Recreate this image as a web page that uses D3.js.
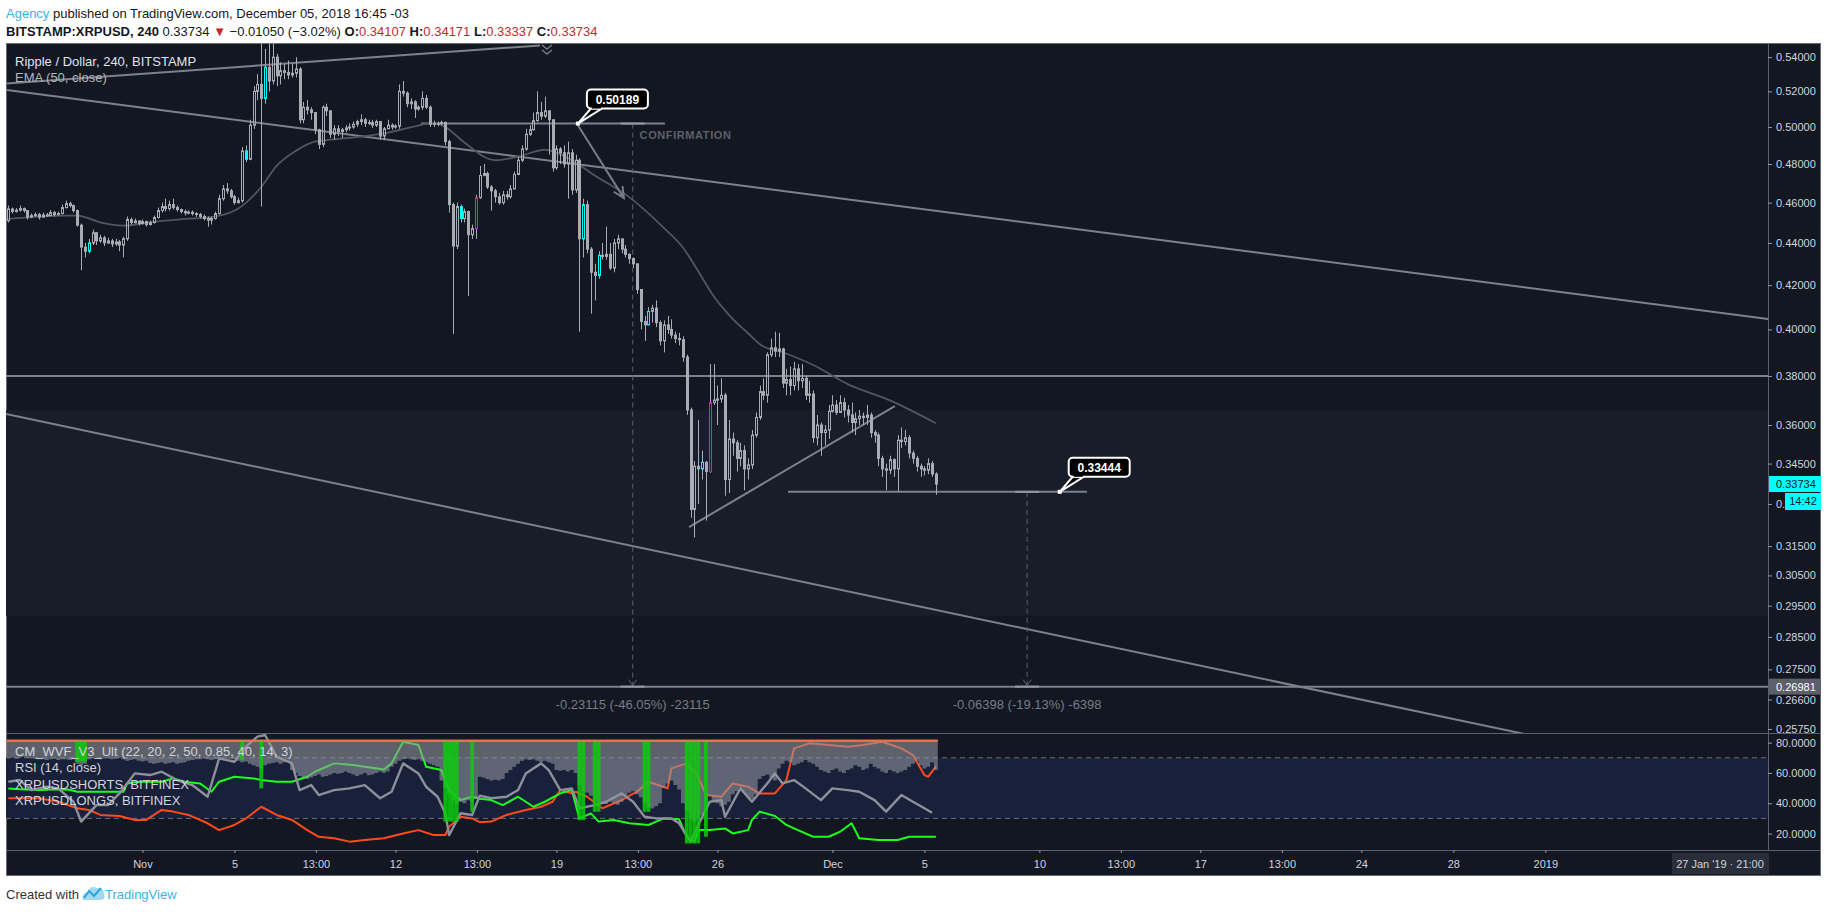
<!DOCTYPE html>
<html>
<head>
<meta charset="utf-8">
<script src="https://cdn.jsdelivr.net/npm/d3@7"></script>
<style>
  body { margin: 0; background: #fff; }
  svg { display: block; font-family: "Liberation Sans", Arial, sans-serif; }
</style>
</head>
<body>
<svg width="1828" height="912"></svg>
<script>
// ---- data (4h bars, bar 0 = 26 Oct 2018 04:00) ----
var firstOpen = 0.4510;
var closes = [0.4568,0.4555,0.4562,0.4570,0.4560,0.4527,0.4535,0.4540,0.4527,0.4538,
0.4535,0.4550,0.4540,0.4545,0.4575,0.4595,0.4585,0.4560,0.4487,0.4380,
0.4360,0.4400,0.4450,0.4410,0.4425,0.4400,0.4410,0.4395,0.4405,0.4390,
0.4420,0.4515,0.4500,0.4508,0.4495,0.4505,0.4490,0.4500,0.4525,0.4560,
0.4580,0.4570,0.4590,0.4575,0.4565,0.4555,0.4548,0.4552,0.4545,0.4540,
0.4530,0.4520,0.4512,0.4520,0.4545,0.4620,0.4670,0.4660,0.4630,0.4600,
0.4610,0.4870,0.4825,0.5010,0.5200,0.5240,0.5160,0.5340,0.5260,0.5400,
0.5290,0.5320,0.5310,0.5295,0.5305,0.5330,0.5040,0.5110,0.5095,0.5080,
0.4985,0.4905,0.5110,0.5090,0.4960,0.4990,0.4975,0.4985,0.4995,0.5000,
0.5015,0.5030,0.5040,0.5020,0.5025,0.5010,0.5030,0.4950,0.4990,0.5010,
0.5000,0.5005,0.5200,0.5190,0.5130,0.5140,0.5100,0.5110,0.5160,0.5110,
0.5015,0.5020,0.5018,0.5025,0.4920,0.4590,0.4385,0.4580,0.4520,0.4555,
0.4440,0.4470,0.4625,0.4740,0.4750,0.4680,0.4660,0.4630,0.4600,0.4640,
0.4630,0.4670,0.4745,0.4820,0.4880,0.4960,0.4985,0.5035,0.5080,0.5060,
0.5090,0.5040,0.4780,0.4880,0.4860,0.4800,0.4860,0.4665,0.4820,0.4420,
0.4590,0.4370,0.4260,0.4245,0.4340,0.4335,0.4345,0.4280,0.4400,0.4420,
0.4370,0.4345,0.4325,0.4300,0.4180,0.4035,0.4020,0.4080,0.4095,0.4030,
0.3950,0.4020,0.4000,0.3975,0.3960,0.3955,0.3880,0.3660,0.3280,0.3440,
0.3430,0.3455,0.3420,0.3690,0.3700,0.3705,0.3720,0.3390,0.3545,0.3530,
0.3470,0.3500,0.3430,0.3445,0.3560,0.3630,0.3735,0.3720,0.3890,0.3920,
0.3905,0.3915,0.3770,0.3785,0.3760,0.3830,0.3780,0.3790,0.3720,0.3725,
0.3550,0.3600,0.3570,0.3580,0.3655,0.3680,0.3650,0.3690,0.3660,0.3640,
0.3610,0.3625,0.3635,0.3630,0.3640,0.3570,0.3560,0.3470,0.3430,0.3425,
0.3465,0.3430,0.3540,0.3535,0.3550,0.3490,0.3470,0.3440,0.3430,0.3425,
0.3450,0.34107,0.33734];
var highs = [0.4585,0.4575,0.4572,0.4585,0.4575,0.4562,0.4545,0.4550,0.4548,0.4550,
0.4548,0.4562,0.4558,0.4555,0.4590,0.4610,0.4605,0.4590,0.4565,0.4495,
0.4400,0.4420,0.4465,0.4450,0.4440,0.4435,0.4425,0.4420,0.4420,0.4415,
0.4430,0.4530,0.4525,0.4520,0.4512,0.4515,0.4510,0.4510,0.4535,0.4575,
0.4600,0.4620,0.4610,0.4620,0.4585,0.4570,0.4565,0.4560,0.4560,0.4552,
0.4548,0.4540,0.4530,0.4530,0.4555,0.4640,0.4690,0.4700,0.4670,0.4640,
0.4625,0.4890,0.4900,0.5040,0.5230,0.5300,0.5600,0.5450,0.5700,0.5700,
0.5420,0.5370,0.5360,0.5380,0.5360,0.5400,0.5340,0.5140,0.5150,0.5110,
0.5060,0.4990,0.5120,0.5130,0.5090,0.5010,0.5010,0.4995,0.5010,0.5020,
0.5030,0.5040,0.5070,0.5050,0.5040,0.5040,0.5040,0.5030,0.5000,0.5040,
0.5020,0.5015,0.5240,0.5260,0.5200,0.5160,0.5150,0.5120,0.5200,0.5180,
0.5120,0.5035,0.5030,0.5035,0.5030,0.4930,0.4600,0.4600,0.4590,0.4570,
0.4560,0.4490,0.4640,0.4790,0.4800,0.4760,0.4690,0.4670,0.4650,0.4660,
0.4660,0.4690,0.4760,0.4840,0.4900,0.4990,0.5010,0.5080,0.5200,0.5140,
0.5170,0.5080,0.5040,0.4900,0.4890,0.4900,0.4920,0.4880,0.4850,0.4830,
0.4620,0.4610,0.4380,0.4300,0.4360,0.4400,0.4480,0.4400,0.4420,0.4440,
0.4420,0.4390,0.4350,0.4330,0.4300,0.4180,0.4060,0.4100,0.4110,0.4130,
0.4040,0.4040,0.4060,0.4045,0.3990,0.3985,0.3970,0.3890,0.3670,0.3460,
0.3620,0.3500,0.3460,0.3850,0.3850,0.3760,0.3790,0.3730,0.3620,0.3570,
0.3540,0.3530,0.3520,0.3470,0.3580,0.3650,0.3760,0.3790,0.3900,0.3960,
0.3990,0.3985,0.3920,0.3830,0.3840,0.3860,0.3850,0.3850,0.3800,0.3780,
0.3740,0.3640,0.3610,0.3600,0.3680,0.3720,0.3700,0.3720,0.3710,0.3680,
0.3690,0.3650,0.3660,0.3650,0.3680,0.3650,0.3580,0.3570,0.3480,0.3450,
0.3480,0.3470,0.3560,0.3590,0.3580,0.3560,0.3500,0.3480,0.3450,0.3440,
0.3470,0.3460,0.34171];
var lows = [0.4500,0.4545,0.4550,0.4555,0.4550,0.4515,0.4522,0.4528,0.4515,0.4525,
0.4528,0.4530,0.4530,0.4535,0.4540,0.4570,0.4575,0.4550,0.4480,0.4270,
0.4330,0.4350,0.4390,0.4390,0.4400,0.4385,0.4395,0.4380,0.4385,0.4360,
0.4330,0.4410,0.4490,0.4495,0.4485,0.4490,0.4480,0.4485,0.4495,0.4520,
0.4550,0.4555,0.4560,0.4565,0.4555,0.4545,0.4535,0.4540,0.4535,0.4528,
0.4520,0.4510,0.4480,0.4490,0.4515,0.4540,0.4610,0.4645,0.4620,0.4590,
0.4595,0.4600,0.4810,0.4820,0.4990,0.5150,0.4580,0.5130,0.5200,0.5240,
0.5230,0.5240,0.5270,0.5270,0.5280,0.5280,0.5020,0.5020,0.5070,0.5040,
0.4960,0.4880,0.4890,0.5060,0.4940,0.4930,0.4950,0.4940,0.4970,0.4980,
0.4990,0.5000,0.5010,0.5000,0.5010,0.4995,0.5000,0.4930,0.4930,0.4990,
0.4985,0.4990,0.4990,0.5170,0.5110,0.5100,0.5050,0.5090,0.5095,0.5100,
0.5000,0.5000,0.5005,0.5010,0.4900,0.4550,0.3980,0.4370,0.4500,0.4500,
0.4150,0.4420,0.4420,0.4620,0.4735,0.4670,0.4560,0.4600,0.4590,0.4590,
0.4615,0.4620,0.4670,0.4740,0.4810,0.4870,0.4950,0.4980,0.5030,0.5040,
0.5050,0.4850,0.4760,0.4770,0.4800,0.4780,0.4620,0.4640,0.4650,0.3990,
0.4330,0.4350,0.4070,0.4130,0.4230,0.4320,0.4320,0.4270,0.4260,0.4370,
0.4350,0.4330,0.4300,0.4280,0.4160,0.4000,0.3950,0.4020,0.4030,0.4010,
0.3930,0.3900,0.3980,0.3960,0.3940,0.3930,0.3860,0.3640,0.3250,0.3180,
0.3300,0.3390,0.3240,0.3415,0.3680,0.3600,0.3690,0.3330,0.3340,0.3480,
0.3420,0.3440,0.3350,0.3390,0.3430,0.3550,0.3620,0.3700,0.3690,0.3880,
0.3880,0.3880,0.3750,0.3720,0.3720,0.3740,0.3740,0.3750,0.3700,0.3690,
0.3530,0.3520,0.3480,0.3520,0.3545,0.3650,0.3640,0.3650,0.3630,0.3610,
0.3570,0.3560,0.3600,0.3600,0.3600,0.3550,0.3530,0.3440,0.3400,0.3350,
0.3410,0.3400,0.3345,0.3510,0.3520,0.3470,0.3450,0.3420,0.3400,0.3405,
0.3410,0.3400,0.33337];
var cyanBars = [21, 62, 67, 118, 150, 154, 167, 181];
var magentaBars = [122, 183];

// EMA(50) as read: [bar, price]
var ema = [[0,0.4518],[15,0.4535],[18,0.4535],[24,0.4501],[30,0.4485],[37,0.4501],[46,0.4518],
[53,0.4527],[60,0.4570],[66,0.4680],[70,0.4790],[75,0.4870],[80,0.4920],[89,0.4940],[98,0.4965],
[107,0.5008],[111,0.5023],[114,0.5000],[119,0.4915],[127,0.4820],[133,0.4839],[140,0.4876],
[147,0.4820],[153,0.4740],[162,0.4628],[171,0.4474],[176,0.4378],[180,0.4265],[184,0.4150],
[188,0.4065],[193,0.3983],[197,0.3925],[201,0.3906],[210,0.3846],[219,0.3766],[230,0.3699],[242,0.3607]];

var priceTicks = [0.54,0.52,0.50,0.48,0.46,0.44,0.42,0.40,0.38,0.36,0.345,0.33,0.315,0.305,0.295,0.285,0.275,0.266,0.2575];
var levels = [0.38, 0.26981];
var band = [0.3660, 0.2917];
// drawn lines: [[bar, price], [bar, price]]
var trendLines = [
  [[-0.42, 0.5246], [138.7, 0.5470]],
  [[-0.42, 0.5208], [459.1, 0.4046]],
  [[-0.6, 0.3644], [459.1, 0.2420]],
  [[107.7, 0.50189], [171.3, 0.50189]],
  [[177.6, 0.3217], [231.3, 0.3676]],
  [[203.4, 0.33444], [281.4, 0.33444]]
];
var arrowLine = [[148.6, 0.5009], [160.6, 0.4623]];
var measures = [
  {bar: 162.9, from: 0.50189, to: 0.26981, label: "-0.23115 (-46.05%) -23115"},
  {bar: 265.8, from: 0.33444, to: 0.26981, label: "-0.06398 (-19.13%) -6398"}
];
var callouts = [{bar: 148.6, price: 0.50189, label: "0.50189"}, {bar: 274.3, price: 0.33444, label: "0.33444"}];

// lower pane
var oscTicks = [80, 60, 40, 20];
var wvfTop = 81.3;
var wvf = [70,70,69.5,70,70.5,70,69.5,70,69,69,68.5,69,69.5,68.5,69,69,68.5,69,
66,65,66,
69,69.5,70,69,69.5,70,69,69.5,70,69,68,68.5,69,68,67.5,68,
66.5,66,66.5,67,66,66.5,67,66,66.5,67,
68,68.5,69,69,69.5,69,68.5,69,69.5,70,69.5,69,69,
68,67,67.5,66,65,64,63,
65,66,66.5,67,66,67,67.5,
62,60,58,57,56,57,
58,59,57.5,58,59,60,59.5,60,61,60,59,58,59,60,58.5,59,60,61,60,61,
64,66,68,69,69.5,69,68.5,69,68,67,66,65,64,
55,50,46,42,40,
41,40,42,41,43,
57.5,57,56,55,55.5,55,56,60,62,64,66,
68,69,68.5,69,68,67,68,67,66,
62,61.5,62,61,62,60,
52,48,
47,45,42,41,
40,39.5,41,40,39,41,
45,47,48,46,44,
40,37,36.5,38,40,
50,53,55,52,49,
40,35,30,28,30,32,35,
45,42,40,38,39,41,
46,48,50,47,44,43,46,
56,58,59,57,55,
63,66,68,67,65,
66,67,68.5,67,66,
64,62,61,60,62,63,61,60,62,
63,65,64,62,63,66,64,63,
61,60,62,61,60,61,62,
64,66,68,65,63,64,67,62];
var wvfSpikes = [[18,67.4],[19,67.4],[20,67.4],[61,68.5],[66,49.8],[114,27.9],[115,27.9],[116,27.9],[117,27.9],
[121,34.4],[149,28.9],[150,28.9],[153,34.4],[154,34.4],[166,34.4],[167,34.4],
[177,13.5],[178,13.5],[179,13.5],[180,13.5],[182,17.9]];
var shorts = [[0,49.8],[3,49.2],[8,48.7],[13,49.2],[16,48.9],[18,47.6],[24,47.6],[30,47.6],[31,53.1],[34,54.2],
[40,54.2],[43,56.4],[46,54.2],[50,53.1],[53,47.6],[55,54.2],[59,57.5],[64,56.4],[66,55.3],[70,54.2],[74,54.2],
[78,57.5],[80,60.8],[85,66.3],[90,65.2],[93,64.1],[98,62.3],[100,66.3],[103,80.6],[107,78.4],[109,64.1],
[113,61.9],[115,48.7],[118,42.1],[121,44.3],[123,43.0],[126,42.1],[129,38.8],[133,44.3],[137,37.7],[140,41.0],
[144,46.5],[147,48.7],[149,30.0],[152,33.3],[154,27.9],[158,29.0],[162,26.8],[167,25.7],[171,30.0],[175,29.4],
[177,17.9],[179,14.6],[180,22.3],[183,22.3],[187,23.4],[189,20.1],[193,22.3],[194,29.0],[196,34.5],[200,31.6],
[203,25.7],[206,22.3],[210,17.9],[214,17.9],[217,21.2],[220,26.8],[222,16.9],[227,15.8],[232,15.8],[235,17.9],
[239,17.9],[242,17.9]];
var longs = [[0,43.3],[8,43.3],[13,41.0],[18,36.7],[21,35.6],[24,32.3],[29,31.6],[33,29.0],[36,29.0],[40,35.6],
[43,34.5],[47,32.3],[52,26.8],[55,22.3],[59,25.7],[62,30.0],[66,37.7],[70,32.3],[74,29.0],[78,22.3],[81,17.9],
[85,16.9],[89,14.7],[93,15.8],[98,16.9],[103,20.1],[107,22.3],[111,19.0],[114,19.0],[115,24.5],[118,31.1],
[121,30.0],[123,27.5],[126,27.9],[130,32.3],[135,35.6],[139,37.7],[142,41.0],[144,48.7],[147,46.5],[148,47.6],
[151,44.3],[155,36.7],[160,42.1],[164,47.6],[167,54.2],[172,49.8],[173,63.0],[177,66.3],[180,57.5],[182,45.4],
[186,44.3],[189,53.1],[193,50.9],[196,46.5],[200,46.5],[203,55.3],[205,76.2],[209,79.5],[214,78.4],[219,77.3],
[223,78.4],[228,80.6],[233,76.2],[236,71.8],[239,58.6],[240,57.5],[242,64.1]];
var rsi = [[0,54.2],[3,55.3],[6,48.7],[10,50.9],[13,49.8],[17,41.0],[19,27.9],[23,38.8],[26,38.8],[29,46.5],
[33,59.7],[37,58.6],[40,60.8],[44,55.3],[48,52.0],[52,44.3],[55,69.6],[59,67.4],[62,77.3],[65,83.9],[67,85.0],
[70,70.7],[74,66.3],[76,48.7],[79,52.0],[81,45.4],[85,48.7],[89,49.8],[93,52.0],[97,43.3],[100,47.6],[103,66.3],
[107,59.7],[109,50.9],[112,44.3],[114,33.4],[115,19.0],[118,33.4],[121,32.3],[123,45.0],[126,43.3],[130,44.3],
[133,48.7],[135,59.7],[139,66.3],[141,61.9],[144,48.7],[147,49.8],[149,36.7],[153,38.8],[156,41.0],[160,46.5],
[163,41.0],[166,31.1],[169,30.0],[173,30.0],[175,26.8],[178,14.6],[180,25.7],[183,41.0],[186,42.1],[187,31.1],
[191,49.8],[194,41.0],[198,53.1],[200,59.7],[202,53.1],[205,55.3],[208,49.8],[212,42.1],[215,49.8],[219,48.7],
[222,47.6],[226,42.1],[229,34.5],[233,45.4],[236,41.0],[239,36.7],[241,33.8]];

var xTickDates = [Date.UTC(2018,10,1), Date.UTC(2018,10,5), Date.UTC(2018,10,8,13), Date.UTC(2018,10,12),
  Date.UTC(2018,10,15,13), Date.UTC(2018,10,19), Date.UTC(2018,10,22,13), Date.UTC(2018,10,26),
  Date.UTC(2018,11,1), Date.UTC(2018,11,5), Date.UTC(2018,11,10), Date.UTC(2018,11,13,13),
  Date.UTC(2018,11,17), Date.UTC(2018,11,20,13), Date.UTC(2018,11,24), Date.UTC(2018,11,28), Date.UTC(2019,0,1)];
var xTickLabels = ["Nov","5","13:00","12","13:00","19","13:00","26","Dec","5","10","13:00","17","13:00","24","28","2019"];

var header2 = [["BITSTAMP:XRPUSD, 240", "bold", "#131722"], [" 0.33734 ", "normal", "#131722"], ["\u25BC", "normal", "#c62828"],
  [" \u22120.01050 (\u22123.02%) ", "normal", "#131722"], ["O:", "bold", "#131722"], ["0.34107", "normal", "#c62828"],
  [" H:", "bold", "#131722"], ["0.34171", "normal", "#c62828"], [" L:", "bold", "#131722"], ["0.33337", "normal", "#c62828"],
  [" C:", "bold", "#131722"], ["0.33734", "normal", "#c62828"]];

// ---- scales ----
var svg = d3.select("svg");
var t0 = Date.UTC(2018, 9, 26, 4), H4 = 4 * 3600 * 1000;
function barTime(i) { return new Date(t0 + i * H4); }
var x = d3.scaleUtc().domain([barTime(0), barTime(242)]).range([8.3, 935.9]);
function xi(i) { return x(barTime(i)); }
var y = d3.scaleLog().domain([0.36, 0.2575]).range([425, 729]);
var ys = d3.scaleLinear().domain([80, 20]).range([742.6, 833.6]);
var pane = {left: 6, right: 1768, top: 43, bottom: 733}, sub = {top: 733, bottom: 850};
var grid = "#5d606b", candleGray = "#a9acb4";

var defs = svg.append("defs");
defs.append("clipPath").attr("id", "mainclip").append("rect")
  .attr("x", pane.left).attr("y", pane.top).attr("width", pane.right - pane.left).attr("height", pane.bottom - pane.top);
defs.append("clipPath").attr("id", "subclip").append("rect")
  .attr("x", pane.left).attr("y", sub.top).attr("width", pane.right - pane.left).attr("height", sub.bottom - sub.top);
defs.append("clipPath").attr("id", "axclip").append("rect")
  .attr("x", 0).attr("y", pane.top).attr("width", 60).attr("height", pane.bottom - pane.top);

// ---- header ----
var l1 = svg.append("text").attr("x", 6).attr("y", 17.5).attr("font-size", 13).attr("fill", "#131722");
l1.append("tspan").attr("fill", "#3bb3e4").text("Agency");
l1.append("tspan").text(" published on TradingView.com, December 05, 2018 16:45 -03");
var l2 = svg.append("text").attr("x", 6).attr("y", 35.5).attr("font-size", 13).attr("xml:space", "preserve");
header2.forEach(function(s) {
  l2.append("tspan").attr("font-weight", s[1]).attr("fill", s[2]).text(s[0]);
});

// ---- frame ----
svg.append("rect").attr("x", 6.5).attr("y", 43.5).attr("width", 1814).attr("height", 832)
  .attr("fill", "#131722").attr("stroke", "#6a6d78");

// ---- main pane ----
var main = svg.append("g").attr("clip-path", "url(#mainclip)");
main.append("rect").attr("x", pane.left).attr("width", pane.right - pane.left)
  .attr("y", y(band[0])).attr("height", y(band[1]) - y(band[0])).attr("fill", "#191d29");

main.selectAll(".lvl").data(levels).enter().append("line")
  .attr("x1", pane.left).attr("x2", pane.right)
  .attr("y1", function(d) { return y(d); }).attr("y2", function(d) { return y(d); })
  .attr("stroke", "#7e818a").attr("stroke-width", 2);

main.selectAll(".trend").data(trendLines).enter().append("line")
  .attr("x1", function(d) { return xi(d[0][0]); }).attr("y1", function(d) { return y(d[0][1]); })
  .attr("x2", function(d) { return xi(d[1][0]); }).attr("y2", function(d) { return y(d[1][1]); })
  .attr("stroke", "#7e818a").attr("stroke-width", 2);

// measure tools
measures.forEach(function(m) {
  var mx = xi(m.bar);
  main.append("line").attr("x1", mx).attr("x2", mx).attr("y1", y(m.from)).attr("y2", y(m.to))
    .attr("stroke", grid).attr("stroke-dasharray", "5,4");
  main.append("path").attr("d", "M" + (mx - 4) + "," + (y(m.to) - 7) + "L" + mx + "," + (y(m.to) - 1) + "L" + (mx + 4) + "," + (y(m.to) - 7))
    .attr("fill", "none").attr("stroke", grid);
  [m.from, m.to].forEach(function(p) {
    main.append("line").attr("x1", mx - 12).attr("x2", mx + 12).attr("y1", y(p)).attr("y2", y(p))
      .attr("stroke", "#9598a1").attr("stroke-width", 2);
  });
  main.append("text").attr("x", mx).attr("y", y(m.to) + 18).attr("text-anchor", "middle")
    .attr("dominant-baseline", "central").attr("font-size", 13).attr("fill", "#787b86").text(m.label);
});

main.append("text").attr("x", xi(164.7)).attr("y", y(0.4955)).attr("dominant-baseline", "central")
  .attr("font-size", 11).attr("font-weight", "bold").attr("letter-spacing", 0.6).attr("fill", grid).text("CONFIRMATION");

// EMA
main.append("path").datum(ema)
  .attr("d", d3.line().curve(d3.curveMonotoneX).x(function(d) { return xi(d[0]); }).y(function(d) { return y(d[1]); }))
  .attr("fill", "none").attr("stroke", "#52555e").attr("stroke-width", 1.8);

// candles
var candles = closes.map(function(c, i) {
  return {i: i, o: i ? closes[i - 1] : firstOpen, h: highs[i], l: lows[i], c: c};
});
function barColor(d) {
  if (cyanBars.indexOf(d.i) >= 0) return "#00ffff";
  if (magentaBars.indexOf(d.i) >= 0) return "#ff00ff";
  return candleGray;
}
var cg = main.append("g");
cg.selectAll(".wick").data(candles).enter().append("path")
  .attr("d", function(d) {
    var cx = Math.round(xi(d.i)) + 0.5;
    return "M" + cx + "," + y(d.h) + "V" + y(Math.max(d.o, d.c)) +
           "M" + cx + "," + y(Math.min(d.o, d.c)) + "V" + y(d.l);
  })
  .attr("stroke", candleGray).attr("stroke-width", 1);
cg.selectAll(".body").data(candles).enter().append("rect")
  .attr("x", function(d) { return Math.round(xi(d.i)) - 0.5; })
  .attr("width", 2)
  .attr("y", function(d) { return y(Math.max(d.o, d.c)); })
  .attr("height", function(d) { return Math.max(1, y(Math.min(d.o, d.c)) - y(Math.max(d.o, d.c))); })
  .attr("fill", function(d) { return d.c >= d.o ? "none" : barColor(d); })
  .attr("stroke", barColor).attr("stroke-width", 1);

// arrow
var a0 = [xi(arrowLine[0][0]), y(arrowLine[0][1])], a1 = [xi(arrowLine[1][0]), y(arrowLine[1][1])];
var ang = Math.atan2(a1[1] - a0[1], a1[0] - a0[0]);
main.append("path")
  .attr("d", "M" + a0 + "L" + a1 +
    "M" + [a1[0] - 12 * Math.cos(ang - 0.45), a1[1] - 12 * Math.sin(ang - 0.45)] + "L" + a1 +
    "L" + [a1[0] - 12 * Math.cos(ang + 0.45), a1[1] - 12 * Math.sin(ang + 0.45)])
  .attr("fill", "none").attr("stroke", "#787b86").attr("stroke-width", 2);

// callouts
callouts.forEach(function(c) {
  var ax = xi(c.bar), ay = y(c.price), bx = ax + 9, by = ay - 34, bw = 61, bh = 19;
  main.append("path").attr("d", "M" + ax + "," + ay + "L" + (bx + 4) + "," + (by + bh) + "L" + (bx + 15) + "," + (by + bh) + "Z")
    .attr("fill", "#000").attr("stroke", "#fff").attr("stroke-width", 2);
  main.append("rect").attr("x", bx).attr("y", by).attr("width", bw).attr("height", bh).attr("rx", 4)
    .attr("fill", "#000").attr("stroke", "#fff").attr("stroke-width", 2);
  main.append("rect").attr("x", bx + 5).attr("y", by + bh - 3).attr("width", 9).attr("height", 3).attr("fill", "#000");
  main.append("text").attr("x", bx + bw / 2).attr("y", by + bh / 2 + 0.5).attr("text-anchor", "middle")
    .attr("dominant-baseline", "central").attr("font-size", 12).attr("font-weight", "bold").attr("fill", "#fff").text(c.label);
  main.append("rect").attr("x", ax - 2).attr("y", ay - 2).attr("width", 4).attr("height", 4).attr("fill", "#fff");
});

// chevrons at the top
svg.append("path").attr("d", "M542,45L547,49L552,45M542,50L547,54L552,50")
  .attr("fill", "none").attr("stroke", "#787b86").attr("stroke-width", 1.5);

// legend
svg.append("text").attr("x", 15).attr("y", 65.5).attr("font-size", 13).attr("fill", "#e0e3eb").text("Ripple / Dollar, 240, BITSTAMP");
svg.append("text").attr("x", 15).attr("y", 82).attr("font-size", 13).attr("fill", "#b2b5be").text("EMA (50, close)");

// ---- lower pane ----
var lower = svg.append("g").attr("clip-path", "url(#subclip)");
lower.append("rect").attr("x", pane.left).attr("width", pane.right - pane.left)
  .attr("y", ys(70)).attr("height", ys(30) - ys(70)).attr("fill", "#19213a");
lower.selectAll(".band").data([70, 30]).enter().append("line")
  .attr("x1", pane.left).attr("x2", pane.right)
  .attr("y1", function(d) { return ys(d); }).attr("y2", function(d) { return ys(d); })
  .attr("stroke", "#6b6e78").attr("stroke-dasharray", "5,4");

var oscLine = d3.line().x(function(d) { return xi(d[0]); }).y(function(d) { return ys(d[1]); });
[[longs, "#ff4a1c", 2], [shorts, "#1cff1c", 2], [rsi, "#8d909a", 2.4]].forEach(function(s) {
  lower.append("path").datum(s[0]).attr("d", oscLine).attr("fill", "none")
    .attr("stroke", s[1]).attr("stroke-width", s[2]).attr("stroke-linejoin", "round");
});

var half = (xi(1) - xi(0)) / 2;
var histPts = [];
wvf.forEach(function(v, i) { histPts.push([xi(i) - half, v]); histPts.push([xi(i) + half, v]); });
lower.append("path").datum(histPts)
  .attr("d", d3.area().x(function(d) { return d[0]; }).y0(ys(wvfTop)).y1(function(d) { return ys(d[1]); }))
  .attr("fill", "#9598a1").attr("fill-opacity", 0.58);

lower.selectAll(".spike").data(wvfSpikes).enter().append("rect")
  .attr("x", function(d) { return xi(d[0]) - half; }).attr("width", half * 2)
  .attr("y", ys(wvfTop)).attr("height", function(d) { return ys(d[1]) - ys(wvfTop); })
  .attr("fill", "#0ccc0c").attr("fill-opacity", 0.85);

lower.append("line").attr("x1", xi(0) - half).attr("x2", xi(242) + half)
  .attr("y1", ys(wvfTop)).attr("y2", ys(wvfTop)).attr("stroke", "#e2714f").attr("stroke-width", 2.5);

var legend2 = ["CM_WVF_V3_Ult (22, 20, 2, 50, 0.85, 40, 14, 3)", "RSI (14, close)", "XRPUSDSHORTS, BITFINEX", "XRPUSDLONGS, BITFINEX"];
svg.selectAll(".leg2").data(legend2).enter().append("text")
  .attr("x", 15).attr("y", function(d, i) { return [756, 772, 788.5, 805][i]; })
  .attr("font-size", 13).attr("fill", "#d1d4dc").text(function(d) { return d; });

// ---- separators ----
svg.append("line").attr("x1", 6).attr("x2", 1821).attr("y1", 733.5).attr("y2", 733.5).attr("stroke", grid);
svg.append("line").attr("x1", 6).attr("x2", 1821).attr("y1", 850.5).attr("y2", 850.5).attr("stroke", grid);
svg.append("line").attr("x1", 1768.5).attr("x2", 1768.5).attr("y1", 43).attr("y2", 850).attr("stroke", grid);

// ---- axes ----
function styleAxis(g) {
  g.attr("font-size", 11).attr("font-family", "Liberation Sans, Arial, sans-serif");
  g.select(".domain").remove();
  g.selectAll("line").attr("stroke", "#9598a1");
  g.selectAll("text").attr("fill", "#d1d4dc");
}
var axWrap = svg.append("g").attr("transform", "translate(1768,0)");
axWrap.append("g").attr("clip-path", "url(#axclip)")
  .call(d3.axisRight(y).tickValues(priceTicks).tickFormat(d3.format(".5f")).tickSize(4).tickPadding(4))
  .call(styleAxis);
svg.append("g").attr("transform", "translate(1768,0)")
  .call(d3.axisRight(ys).tickValues(oscTicks).tickFormat(d3.format(".4f")).tickSize(4).tickPadding(4))
  .call(styleAxis);
svg.append("g").attr("transform", "translate(0,850)")
  .call(d3.axisBottom(x).tickValues(xTickDates.map(function(t) { return new Date(t); }))
    .tickFormat(function(d, i) { return xTickLabels[i]; }).tickSize(3).tickPadding(7))
  .call(styleAxis);

// price labels on the axis
function axisLabel(p, text, bg, fg) {
  svg.append("rect").attr("x", 1769).attr("y", y(p) - 8).attr("width", 52).attr("height", 16).attr("fill", bg);
  svg.append("text").attr("x", 1776).attr("y", y(p)).attr("dominant-baseline", "central")
    .attr("font-size", 11).attr("fill", fg).text(text);
}
axisLabel(closes[closes.length - 1], "0.33734", "#00ffff", "#131722");
svg.append("rect").attr("x", 1785).attr("y", y(closes[closes.length - 1]) + 9).attr("width", 36).attr("height", 17).attr("fill", "#00ffff");
svg.append("text").attr("x", 1803).attr("y", y(closes[closes.length - 1]) + 17.5).attr("text-anchor", "middle")
  .attr("dominant-baseline", "central").attr("font-size", 11).attr("fill", "#131722").text("14:42");
axisLabel(levels[1], "0.26981", "#5d606b", "#ffffff");

// crosshair time label
svg.append("rect").attr("x", 1672).attr("y", 853).attr("width", 97).attr("height", 21).attr("fill", "#2a2e39");
svg.append("text").attr("x", 1720).attr("y", 864).attr("text-anchor", "middle").attr("dominant-baseline", "central")
  .attr("font-size", 11).attr("fill", "#d1d4dc").text("27 Jan '19 \u00B7 21:00");

// ---- footer ----
svg.append("text").attr("x", 6).attr("y", 899).attr("font-size", 13).attr("fill", "#333").text("Created with");
svg.append("path").attr("d", "M83,900 Q81,893 88,892 Q90,885 97,888 Q104,887 104,894 Q106,900 100,900 Z").attr("fill", "#9fd9f2");
svg.append("path").attr("d", "M84,898 L89,891 L94,896 L101,888").attr("fill", "none").attr("stroke", "#2fa3d8").attr("stroke-width", 2);
svg.append("text").attr("x", 105).attr("y", 899).attr("font-size", 13).attr("fill", "#3bb3e4").text("TradingView");
</script>
</body>
</html>
